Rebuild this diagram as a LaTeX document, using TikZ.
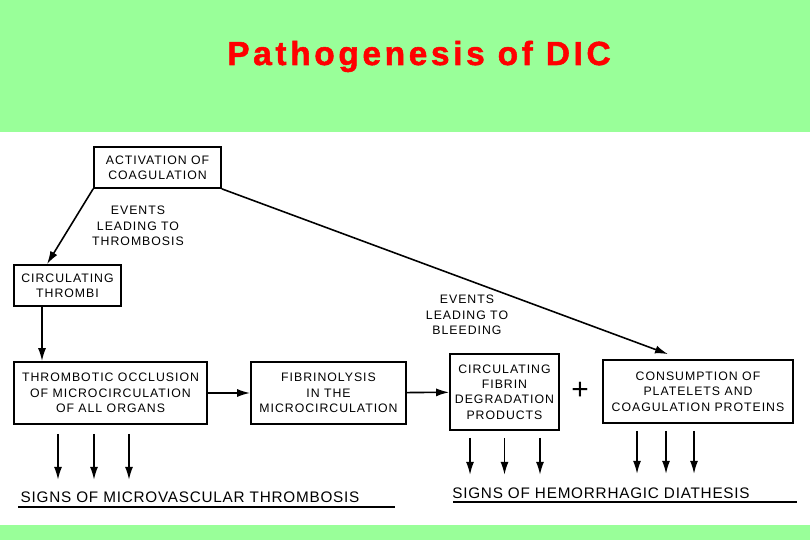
\documentclass[tikz,border=0pt]{standalone}
\usepackage{fontspec}
\setmainfont{Liberation Sans}
\newfontfamily\boxfont[LetterSpace=8]{Liberation Sans}
\newfontfamily\signfont[LetterSpace=5]{Liberation Sans}
\newfontfamily\titlefont[LetterSpace=11,BoldFeatures={FakeBold=1.6}]{Liberation Sans}
\usetikzlibrary{arrows.meta,positioning}
\definecolor{slidegreen}{HTML}{99FF99}
\definecolor{titlered}{HTML}{FF0000}

\begin{document}
\begin{tikzpicture}[x=0.02cm,y=-0.02cm,every node/.style={align=center,font=\boxfont\fontsize{7}{8.8}\selectfont},box/.style={draw,line width=1pt,inner sep=0pt},arr/.style={-{Latex[length=2.6mm,width=1.6mm]},line width=0.9pt}]
  % Slide background
  \fill[slidegreen] (0,0) rectangle (810,540);
  \fill[white] (0,132) rectangle (810,525);
  \node[anchor=base,text=titlered,font=\titlefont\bfseries\fontsize{19}{21}\selectfont] (title) at (419,65) {Pathogenesis of DIC};

  % Thrombosis side
  \node[box,minimum width=2.54cm,minimum height=0.82cm] (act) at (157.5,167.5) {ACTIVATION OF\\COAGULATION};
  \node (evthr) at (138,226) {EVENTS\\LEADING TO\\THROMBOSIS};
  \node[box,minimum width=2.14cm,minimum height=0.82cm] (thr) at (67.5,285.5) {CIRCULATING\\THROMBI};
  \node[box,minimum width=3.86cm,minimum height=1.24cm] (occ) at (110.5,393) {THROMBOTIC OCCLUSION\\OF MICROCIRCULATION\\OF ALL ORGANS};
  \node[box,minimum width=3.1cm,minimum height=1.24cm] (fib) at (328.5,393) {FIBRINOLYSIS\\IN THE\\MICROCIRCULATION};
  \draw[arr] (act.south west) -- ([xshift=-0.41cm]thr.north);
  \draw[arr] ([xshift=-0.51cm]thr.south) -- ([xshift=-0.51cm]thr.south |- occ.north);
  \draw[arr] (occ) -- (fib);

  % Bleeding side
  \node (evbl) at (467,315) {EVENTS\\LEADING TO\\BLEEDING};
  \node[box,minimum width=2.18cm,minimum height=1.52cm] (fdp) at (504.5,392) {CIRCULATING\\FIBRIN\\DEGRADATION\\PRODUCTS};
  \node[font=\fontsize{17}{17}\selectfont] (plus) at (580,391) {+};
  \node[box,minimum width=3.8cm,minimum height=1.26cm] (con) at (698,391.5) {CONSUMPTION OF\\PLATELETS AND\\COAGULATION PROTEINS};
  \draw[arr] (fib) -- (fdp);
  \draw[arr] (act.south east) -- ([xshift=-0.6cm,yshift=0.1cm]con.north);

  % Signs
  \node[font=\signfont\fontsize{8.7}{10}\selectfont] (sg1) at (190,497) {SIGNS OF MICROVASCULAR THROMBOSIS};
  \node[font=\signfont\fontsize{8.7}{10}\selectfont] (sg2) at (601,493) {SIGNS OF HEMORRHAGIC DIATHESIS};
  \draw[line width=0.9pt] (18,507) -- (395,507);
  \draw[line width=0.9pt] (453,502) -- (797,502);
  \foreach \dx in {-1.05,-0.33,0.37}
    \draw[arr] ([xshift=\dx cm,yshift=-0.18cm]occ.south) -- ++(0,46);
  \foreach \dx in {-0.69,0,0.71}
    \draw[arr] ([xshift=\dx cm,yshift=-0.14cm]fdp.south) -- ++(0,37);
  \foreach \dx in {-1.22,-0.64,-0.08}
    \draw[arr] ([xshift=\dx cm,yshift=-0.14cm]con.south) -- ++(0,43);
\end{tikzpicture}
\end{document}
